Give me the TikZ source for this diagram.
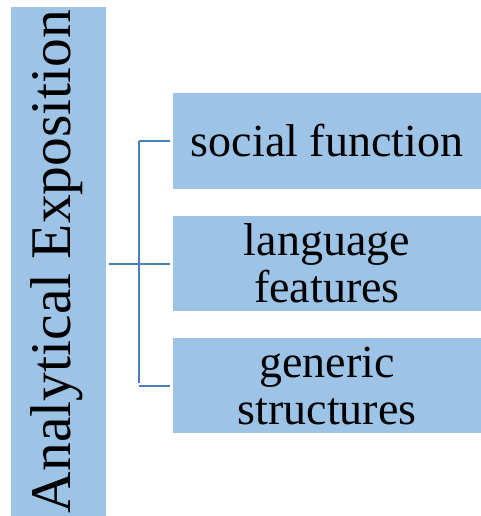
\documentclass[tikz,border=0pt]{standalone}
\usepackage{fontspec}
\setmainfont{Liberation Serif}
\definecolor{boxblue}{HTML}{9DC3E6}
\definecolor{linkblue}{HTML}{4A7EBB}
\begin{document}
\begin{tikzpicture}[x=1pt,y=-1pt,
  leaf/.style={fill=boxblue,draw=none,minimum width=308pt,minimum height=95pt,inner sep=0pt,align=center,font=\rmfamily\fontsize{46}{47}\selectfont},
  link/.style={draw=linkblue,line width=2pt}]
\useasboundingbox (0,0) rectangle (481,516);
\node[fill=boxblue,minimum width=95pt,minimum height=509pt,inner sep=0pt] (L) at (58.5,261.5) {};
\node[rotate=90,font=\rmfamily\fontsize{57.5}{60}\selectfont] (Lt) at ([xshift=-2pt]L.center) {Analytical Exposition};
\node[leaf] (b1) at (327,141) {social function};
\node[leaf] (b2) at (327,263.5) {language\\features};
\node[leaf] (b3) at (327,385.5) {generic\\structures};
\coordinate (j) at (139,263.5);
\draw[link,shorten <=3pt,shorten >=3pt] (L.east |- b2.west) -- (b2.west);
\draw[link,shorten >=3pt] (j |- b1.west) -- (j |- b3.west);
\draw[link,shorten >=3pt] (j |- b1.west) -- (b1.west);
\draw[link,shorten >=3pt] (j |- b3.west) -- (b3.west);
\end{tikzpicture}
\end{document}
